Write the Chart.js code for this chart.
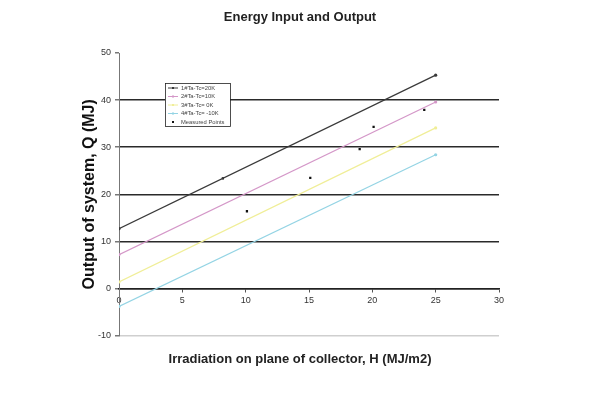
<!DOCTYPE html>
<html>
<head>
<meta charset="utf-8">
<script src="https://cdn.jsdelivr.net/npm/chart.js@4"></script>
<style>
  html, body { margin: 0; padding: 0; background: #fff; }
  #wrap { width: 600px; height: 400px; }
</style>
</head>
<body>
<div id="wrap"><canvas id="energyChart"></canvas></div>
<script>
// Values
const seriesLabels = ["1#Ta-Tc=20K", "2#Ta-Tc=10K", "3#Ta-Tc= 0K", "4#Ta-Tc= -10K", "Measured Points"];
const lineX = [0, 25];
const line1Y = [12.7, 45.3];
const line2Y = [7.2, 39.6];
const line3Y = [1.4, 34.1];
const line4Y = [-3.8, 28.4];
const measuredX = [8.2, 10.1, 15.1, 19.0, 20.1, 24.1];
const measuredY = [23.4, 16.4, 23.5, 29.6, 34.3, 37.9];
const xTicks = [0, 5, 10, 15, 20, 25, 30];
const yTicks = [-10, 0, 10, 20, 30, 40, 50];

const lineColors = ["#3a3a3a", "#d497c8", "#f0ee98", "#94d4e4"];
const fontFam = "'Liberation Sans', Arial, sans-serif";

function toPoints(xs, ys) {
  return xs.map((x, i) => ({ x: x, y: ys[i] }));
}

const lineSets = [line1Y, line2Y, line3Y, line4Y].map((ys, i) => ({
  label: seriesLabels[i],
  data: toPoints(lineX, ys),
  showLine: true,
  borderColor: lineColors[i],
  backgroundColor: lineColors[i],
  borderWidth: 1.2,
  pointRadius: 1.6,
  pointBorderWidth: 0
}));

// legend box drawn inside the plot, like the original
const boxLegend = {
  id: "boxLegend",
  afterDraw(chart) {
    const ctx = chart.ctx;
    const x = 165, y = 83, w = 65, h = 43;
    ctx.save();
    ctx.fillStyle = "#fff";
    ctx.fillRect(x, y, w, h);
    ctx.strokeStyle = "#222";
    ctx.lineWidth = 0.8;
    ctx.strokeRect(x + 0.5, y + 0.5, w, h);
    ctx.font = "5.8px " + fontFam;
    ctx.textBaseline = "middle";
    chart.data.datasets.forEach((ds, i) => {
      const ry = y + 5 + i * 8.5;
      if (ds.showLine) {
        ctx.strokeStyle = ds.borderColor;
        ctx.lineWidth = 1;
        ctx.beginPath();
        ctx.moveTo(x + 3, ry);
        ctx.lineTo(x + 13, ry);
        ctx.stroke();
      }
      ctx.fillStyle = ds.backgroundColor;
      ctx.fillRect(x + 7, ry - 1, 2, 2);
      ctx.fillStyle = "#444";
      ctx.fillText(ds.label, x + 16, ry);
    });
    ctx.restore();
  }
};

function gridColor(c) {
  const v = c.tick.value;
  if (v === 50) return "rgba(0,0,0,0)";
  if (v === -10) return "#cfcfcf";
  return "#2a2a2a";
}

new Chart(document.getElementById("energyChart"), {
  type: "scatter",
  data: {
    datasets: [
      ...lineSets,
      {
        label: seriesLabels[4],
        data: toPoints(measuredX, measuredY),
        showLine: false,
        backgroundColor: "#111",
        borderColor: "#111",
        pointStyle: "rect",
        pointRadius: 1.6,
        pointBorderWidth: 0
      }
    ]
  },
  options: {
    responsive: true,
    maintainAspectRatio: false,
    animation: false,
    layout: { padding: 0 },
    plugins: {
      legend: { display: false },
      tooltip: { enabled: false },
      title: {
        display: true,
        text: "Energy Input and Output",
        color: "#222",
        font: { family: fontFam, size: 13, weight: "bold" },
        padding: { top: 9.2, bottom: 28.2 }
      },
      subtitle: {
        display: true,
        position: "bottom",
        text: "Irradiation on plane of collector, H (MJ/m2)",
        color: "#222",
        font: { family: fontFam, size: 13, weight: "bold" },
        padding: { top: 15.6, bottom: 33.2 }
      }
    },
    scales: {
      x: {
        type: "linear",
        position: { y: 0 },
        min: 0,
        max: 30,
        afterBuildTicks: (s) => { s.ticks = xTicks.map(v => ({ value: v })); },
        ticks: { color: "#333", font: { family: fontFam, size: 9 }, padding: 4 },
        grid: { drawOnChartArea: false, drawTicks: true, tickLength: 3, color: "#555" },
        border: { color: "#222", width: 1.5 }
      },
      y: {
        type: "linear",
        min: -10,
        max: 50,
        afterBuildTicks: (s) => { s.ticks = yTicks.map(v => ({ value: v })); },
        afterFit: (s) => { s.width = 119; },
        ticks: { color: "#333", font: { family: fontFam, size: 9 }, padding: 4 },
        grid: { color: gridColor, lineWidth: 1.5, tickLength: 4, tickColor: "#777" },
        border: { color: "#777", width: 1 },
        title: {
          display: true,
          text: "Output of system, Q (MJ)",
          color: "#111",
          font: { family: fontFam, size: 16, weight: "bold" },
          padding: { top: 80.4, bottom: 0 }
        }
      },
      // empty right-hand margin so the titles centre on the whole page
      yRight: {
        type: "linear",
        position: "right",
        min: -10,
        max: 50,
        afterFit: (s) => { s.width = 101; },
        ticks: { display: false },
        grid: { drawOnChartArea: false, drawTicks: false },
        border: { display: false }
      }
    }
  },
  plugins: [boxLegend]
});
</script>
</body>
</html>
